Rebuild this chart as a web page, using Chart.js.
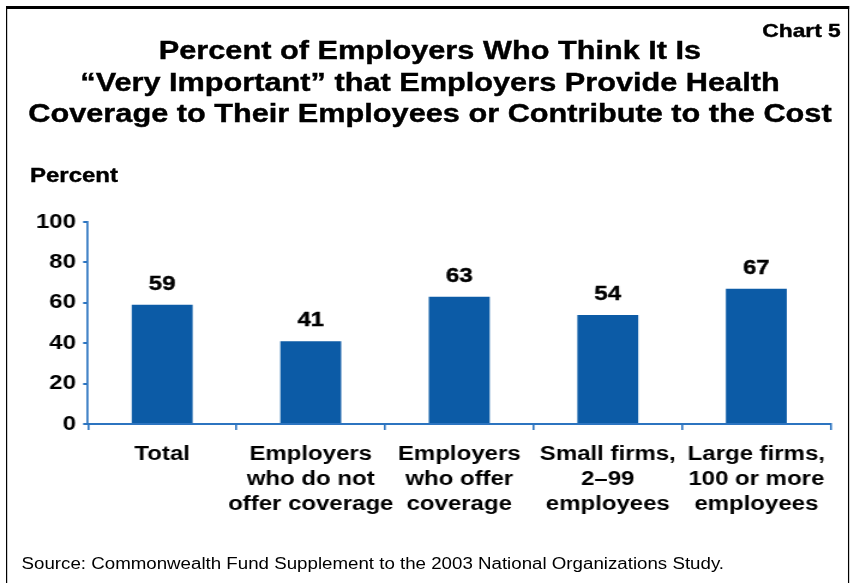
<!DOCTYPE html>
<html>
<head>
<meta charset="utf-8">
<script src="https://cdn.jsdelivr.net/npm/chart.js@4/dist/chart.umd.min.js"></script>
<style>
  html, body { margin: 0; padding: 0; background: #fff; }
  body { width: 854px; height: 583px; overflow: hidden; position: relative; }
  /* the whole slide is drawn narrow and widened, like the original wide-set lettering */
  #slide {
    position: absolute; left: 0; top: 0;
    width: 712px; height: 583px;
    transform: scaleX(1.1994); transform-origin: 0 0;
    font-family: "Liberation Sans", Arial, sans-serif;
  }
  #frame {
    position: absolute; left: 5px; top: 6px; width: 701px; height: 600px;
    border-top: 3px solid #000; border-left: 1.7px solid #000; border-right: 1.7px solid #000;
  }
  .heavy { font-weight: bold; -webkit-text-stroke: 0.4px #000; }
  #chartNo { position: absolute; right: 11px; top: 20px; font-size: 19px; }
  #title {
    position: absolute; left: 0; width: 717px; top: 35px; text-align: center;
    font-size: 25.6px; line-height: 31.5px;
  }
  #unit { position: absolute; left: 25px; top: 164px; font-size: 20px; }
  #source { position: absolute; left: 18px; top: 555px; font-size: 15.6px; }
  #box { position: absolute; left: 0; top: 0; width: 712px; height: 583px; }
</style>
</head>
<body>
<div id="slide">
  <div id="frame"></div>
  <div id="box"><canvas id="myChart"></canvas></div>
  <div id="chartNo" class="heavy">Chart 5</div>
  <div id="title" class="heavy">Percent of Employers Who Think It Is<br>“Very Important” that Employers Provide Health<br>Coverage to Their Employees or Contribute to the Cost</div>
  <div id="unit" class="heavy">Percent</div>
  <div id="source">Source: Commonwealth Fund Supplement to the 2003 National Organizations Study.</div>
</div>
<script>
var Groups = [
  ['Total'],
  ['Employers', 'who do not', 'offer coverage'],
  ['Employers', 'who offer', 'coverage'],
  ['Small firms,', '2–99', 'employees'],
  ['Large firms,', '100 or more', 'employees']
];
var VeryImportant = [59, 41, 63, 54, 67];
var PercentTicks = [0, 20, 40, 60, 80, 100];

var barBlue = '#0c5ba6';
var axisBlue = '#2c74c0';
var boldFont = { family: '"Liberation Sans", Arial, sans-serif', size: 20, weight: 'bold', lineHeight: 1.25 };

// value printed above each bar
var valueLabels = {
  id: 'valueLabels',
  afterDatasetsDraw: function(chart) {
    var c = chart.ctx;
    var meta = chart.getDatasetMeta(0);
    c.save();
    c.font = 'bold 20px "Liberation Sans", Arial, sans-serif';
    c.fillStyle = '#000';
    c.strokeStyle = '#000';
    c.lineWidth = 0.4;
    c.textAlign = 'center';
    c.textBaseline = 'alphabetic';
    meta.data.forEach(function(bar, i) {
      var txt = String(chart.data.datasets[0].data[i]);
      c.fillText(txt, bar.x, bar.y - 15);
      c.strokeText(txt, bar.x, bar.y - 15);
    });
    c.restore();
  }
};

var ctx = document.getElementById('myChart');
var myChart = new Chart(ctx, {
  type: 'bar',
  data: {
    labels: Groups,
    datasets: [{
      label: 'Very important',
      backgroundColor: barBlue,
      borderWidth: 0,
      data: VeryImportant,
      categoryPercentage: 1,
      barPercentage: 0.41
    }]
  },
  options: {
    responsive: true,
    maintainAspectRatio: false,
    animation: false,
    layout: { padding: { top: 222, right: 19.5, bottom: 0, left: 0 } },
    plugins: { legend: { display: false }, tooltip: { enabled: false } },
    scales: {
      x: {
        grid: { drawOnChartArea: false, color: axisBlue, tickLength: 6, lineWidth: 1.6 },
        border: { color: axisBlue, width: 2 },
        ticks: { color: '#000', font: boldFont, padding: 12, maxRotation: 0, autoSkip: false },
        afterFit: function(scale) { scale.height = 159; }
      },
      y: {
        min: 0,
        max: 100,
        afterBuildTicks: function(scale) {
          scale.ticks = PercentTicks.map(function(v) { return { value: v }; });
        },
        grid: { drawOnChartArea: false, color: axisBlue, tickLength: 4, lineWidth: 2 },
        border: { color: axisBlue, width: 1.7 },
        ticks: { color: '#000', font: boldFont, padding: 6 },
        afterFit: function(scale) { scale.width = 73.3; }
      }
    }
  },
  plugins: [valueLabels]
});
</script>
</body>
</html>
